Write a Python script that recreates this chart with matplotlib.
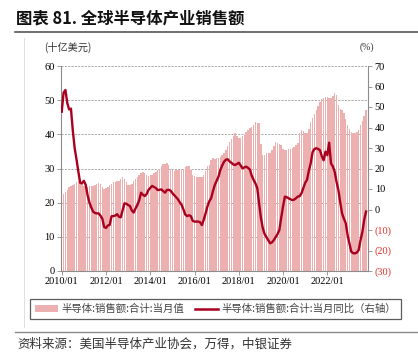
import matplotlib
matplotlib.use("Agg")
import matplotlib.pyplot as plt
from matplotlib.patches import Patch
from matplotlib.lines import Line2D
import numpy as np

plt.rcParams['font.family'] = ['Liberation Serif', 'Noto Sans CJK SC', 'DejaVu Sans']

# ---- data: monthly, 2010/01 .. 2023/10 ----
sales = [
    # 2010
    22.2, 22.6, 23.2, 23.8, 24.5, 24.9, 25.3, 25.6, 26.1, 26.3, 26.2, 25.4,
    # 2011
    25.0, 24.6, 24.7, 24.9, 24.9, 24.9, 25.2, 25.6, 25.7, 25.4, 24.6, 24.0,
    # 2012
    24.3, 24.6, 25.2, 25.6, 26.0, 26.1, 26.2, 26.4, 26.8, 27.4, 26.8, 26.0,
    # 2013
    25.2, 25.1, 25.6, 26.2, 26.8, 27.6, 28.2, 28.6, 29.0, 28.6, 28.2, 27.8,
    # 2014
    28.0, 28.2, 28.6, 29.0, 29.5, 30.0, 30.6, 31.2, 31.4, 31.7, 31.0, 30.0,
    # 2015
    29.5, 29.4, 29.5, 29.6, 29.5, 29.6, 30.0, 30.3, 30.6, 30.7, 29.5, 28.1,
    # 2016
    27.7, 27.5, 27.4, 27.5, 27.6, 28.0, 29.2, 30.7, 31.0, 32.5, 33.0, 32.8,
    # 2017
    33.0, 33.2, 33.5, 33.9, 34.5, 35.4, 36.5, 37.8, 38.6, 39.5, 40.3, 39.6,
    # 2018
    38.8, 38.9, 39.6, 39.8, 40.6, 41.2, 41.8, 42.2, 42.8, 43.7, 43.4, 43.2,
    # 2019
    37.3, 33.9, 34.0, 34.4, 34.4, 34.6, 35.4, 36.6, 37.8, 37.6, 37.2, 36.8,
    # 2020
    35.8, 35.4, 35.4, 35.6, 35.8, 35.9, 36.3, 36.8, 37.5, 40.3, 41.2, 40.9,
    # 2021
    40.5, 40.3, 41.5, 43.7, 44.8, 46.0, 47.1, 48.4, 49.5, 50.3, 50.7, 51.0,
    # 2022
    50.8, 50.5, 50.7, 51.2, 52.0, 51.5, 48.5, 47.3, 47.0, 46.1, 44.5, 42.8,
    # 2023
    41.7, 40.6, 40.3, 40.4, 40.6, 41.2, 42.7, 43.8, 45.3, 47.0,
]

yoy = [
    # 2010
    47.7, 57.0, 58.3, 52.0, 48.8, 49.2, 38.5, 30.0, 24.5, 18.5, 13.0, 12.8,
    # 2011
    14.0, 12.0, 7.0, 3.5, 1.0, -1.0, -1.7, -1.9, -1.9, -3.0, -4.5, -8.5,
    # 2012
    -9.0, -7.8, -7.5, -3.3, -3.2, -3.0, -2.3, -3.5, -3.8, -0.5, 3.0, 2.8,
    # 2013
    2.2, 1.7, -0.5, -1.5, 0.5, 2.2, 4.5, 8.2, 7.2, 6.6, 7.5, 9.5,
    # 2014
    10.5, 11.5, 11.0, 10.5, 9.5, 9.6, 9.8, 9.0, 8.2, 9.5, 9.6, 9.2,
    # 2015
    8.0, 7.0, 6.0, 5.0, 3.5, 2.2, 0.0, -2.5, -3.2, -2.8, -3.2, -5.5,
    # 2016
    -5.9, -5.9, -5.9, -6.2, -7.6, -5.0, -1.9, 1.5, 4.0, 5.5, 9.0, 12.0,
    # 2017
    14.0, 16.0, 19.3, 21.5, 23.3, 24.3, 24.5, 23.5, 22.8, 22.0, 21.7, 22.2,
    # 2018
    22.8, 21.5, 20.1, 20.5, 20.9, 20.3, 19.5, 16.5, 14.5, 12.8, 10.5, 3.0,
    # 2019
    -4.0, -9.0, -12.0, -13.5, -14.9, -16.5, -16.0, -14.9, -13.5, -12.0, -10.0, -4.0,
    # 2020
    1.5, 6.3, 6.0, 5.5, 5.0, 4.6, 4.8, 5.5, 6.3, 6.5, 7.9, 10.5,
    # 2021
    13.0, 14.5, 19.0, 22.5, 28.0, 29.5, 29.9, 29.5, 29.0, 26.0, 24.0, 28.2,
    # 2022
    26.5, 32.6, 22.5, 21.0, 18.4, 13.5, 9.5, 3.5, -1.9, -4.5, -6.7, -12.5,
    # 2023
    -16.5, -20.6, -21.3, -21.4, -21.0, -19.8, -15.0, -11.0, -5.1, -1.0,
]

xtick_labels = ['2010/01', '2012/01', '2014/01', '2016/01', '2018/01', '2020/01', '2022/01']
left_ticks = [0, 10, 20, 30, 40, 50, 60]
right_ticks = [-30, -20, -10, 0, 10, 20, 30, 40, 50, 60, 70]

title = '图表 81. 全球半导体产业销售额'
unit_left = '(十亿美元)'
unit_right = '(%)'
legend_bar = '半导体:销售额:合计:当月值'
legend_line = '半导体:销售额:合计:当月同比（右轴）'
source = '资料来源：美国半导体产业协会，万得，中银证券'

BAR_C = '#EDB0B0'
LINE_C = '#A8001E'
RED_T = '#E8302A'

W, H = 418, 363
fig = plt.figure(figsize=(W / 100, H / 100), dpi=100)

def fx(px):
    return px / W

def fy(py):
    return 1 - py / H

ax = fig.add_axes([fx(61), fy(271), fx(367.7) - fx(61), fy(66) - fy(271)])
x = np.arange(len(sales))
ax.bar(x, sales, width=0.78, color=BAR_C, linewidth=0, zorder=2)
ax.set_ylim(0, 60)
ax.set_xlim(-0.4, 165.9)
ax.set_yticks(left_ticks)
ax.set_yticklabels([str(v) for v in left_ticks])
ax.set_xticks(np.arange(0, len(sales), 24)[:len(xtick_labels)])
ax.set_xticklabels(xtick_labels)
ax.yaxis.grid(True, color='#9a9a9a', linestyle=(0, (2.5, 1.5)), linewidth=0.6, zorder=1)
ax.set_axisbelow(True)
for s in ['top', 'right']:
    ax.spines[s].set_visible(False)
for s in ['left', 'bottom']:
    ax.spines[s].set_color('#8c8c8c')
    ax.spines[s].set_linewidth(0.8)
ax.tick_params(axis='both', labelsize=7.5, length=3, width=0.6, color='#8c8c8c', pad=1.5)

ax2 = ax.twinx()
ax2.plot(x, yoy, color=LINE_C, linewidth=1.7, zorder=3)
ax2.set_ylim(-30, 70)
ax2.set_yticks(right_ticks)
ax2.set_yticklabels([f'({-v})' if v < 0 else str(v) for v in right_ticks])
for lab, v in zip(ax2.get_yticklabels(), right_ticks):
    if v < 0:
        lab.set_color(RED_T)
for s in ['top', 'left', 'bottom']:
    ax2.spines[s].set_visible(False)
ax2.spines['right'].set_color('#8c8c8c')
ax2.spines['right'].set_linewidth(0.8)
ax2.tick_params(axis='y', labelsize=7.5, length=3, width=0.6, color='#8c8c8c', pad=2)

# title + rules
fig.text(fx(16), fy(18), title, fontsize=11.8, fontweight='bold',
         family=['Noto Sans CJK SC', 'DejaVu Sans'], va='center', ha='left', color='#111111')
fig.add_artist(Line2D([fx(15), 1.0], [fy(32), fy(32)], color='#555555', linewidth=1.2))
fig.add_artist(Line2D([fx(24), fx(24)], [fy(38), fy(327)], color='#d9d9d9', linewidth=0.6))

fig.text(fx(44), fy(47), unit_left, fontsize=7.3, family=['Noto Sans CJK SC', 'DejaVu Sans'],
         va='center', ha='left', color='#333333')
fig.text(fx(367), fy(47), unit_right, fontsize=7, family=['Liberation Serif'],
         va='center', ha='center', color='#333333')

handles = [Patch(facecolor=BAR_C, edgecolor='none'),
           Line2D([0], [0], color=LINE_C, linewidth=1.8)]
leg = fig.legend(handles, [legend_bar, legend_line], ncol=2, loc='center',
                 bbox_to_anchor=(fx(30), fy(322), fx(401) - fx(30), fy(296) - fy(322)),
                 mode='expand', frameon=True, fancybox=False,
                 prop={'family': ['Noto Sans CJK SC', 'DejaVu Sans'], 'size': 7.5},
                 handlelength=2.2, handleheight=0.6, handletextpad=0.3, columnspacing=1.0,
                 borderaxespad=0, borderpad=0.5)
leg.get_frame().set_edgecolor('#333333')
leg.get_frame().set_linewidth(0.9)
for t in leg.get_texts():
    t.set_color('#444444')

fig.add_artist(Line2D([fx(15), 1.0], [fy(332), fy(332)], color='#888888', linewidth=1.0))
fig.text(fx(17), fy(344), source, fontsize=9, family=['Noto Sans CJK SC', 'DejaVu Sans'],
         va='center', ha='left', color='#333333', style='italic')

fig.savefig('out.png', dpi=100)
